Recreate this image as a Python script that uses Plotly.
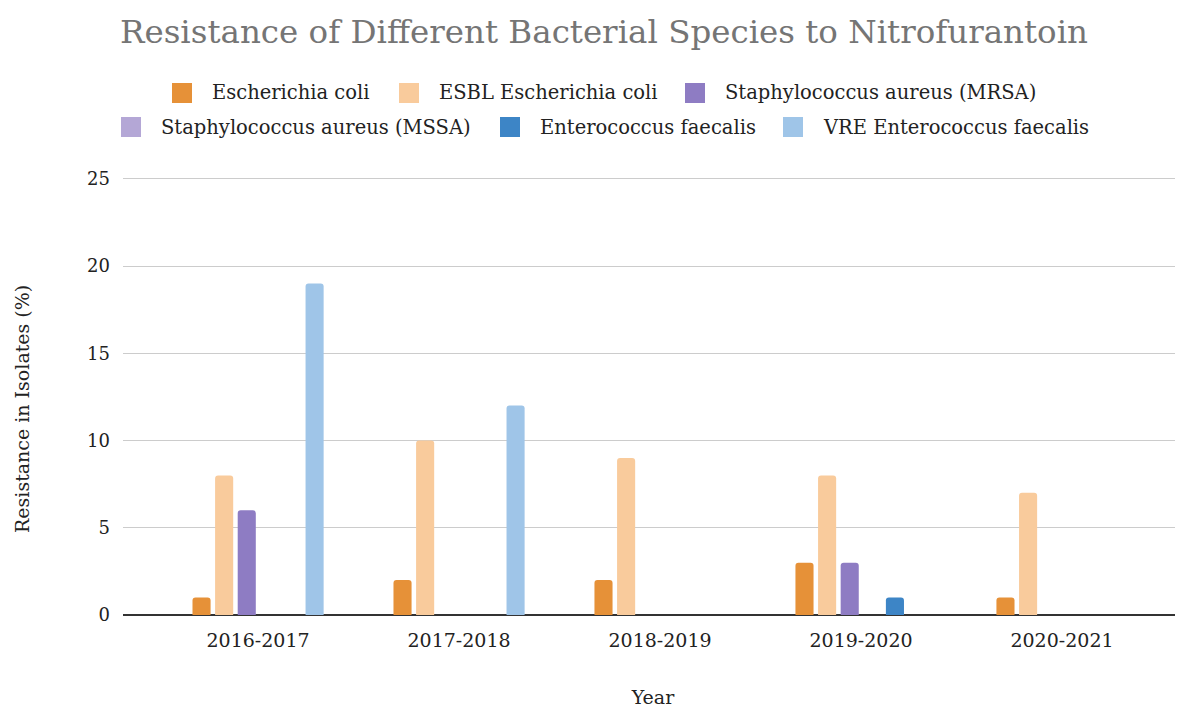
import plotly.graph_objects as go

years = ["2016-2017", "2017-2018", "2018-2019", "2019-2020", "2020-2021"]
series_names = [
    "Escherichia coli",
    "ESBL Escherichia coli",
    "Staphylococcus aureus (MRSA)",
    "Staphylococcus aureus (MSSA)",
    "Enterococcus faecalis",
    "VRE Enterococcus faecalis",
]
e_coli = [1, 2, 2, 3, 1]
esbl_e_coli = [8, 10, 9, 8, 7]
mrsa = [6, 0, 0, 3, 0]
mssa = [0, 0, 0, 0, 0]
e_faecalis = [0, 0, 0, 1, 0]
vre_e_faecalis = [19, 12, 0, 0, 0]
y_ticks = [0, 5, 10, 15, 20, 25]

values = [e_coli, esbl_e_coli, mrsa, mssa, e_faecalis, vre_e_faecalis]
colors = ["#E69138", "#F9CB9C", "#8E7CC3", "#B4A7D6", "#3D85C6", "#9FC5E8"]

FONT = "DejaVu Serif"
TXT = "#222222"

# layout geometry (page pixels; the page body adds an 8px offset)
OFF = 8
W, H = 1175, 701
ML, MR, MT, MB = 115, 0, 169, 94
PW = W - ML - MR
PH = H - MT - MB


def px_x(px):
    return (px - OFF - ML) / PW


def px_y(py):
    return (H - MB + OFF - py) / PH


fig = go.Figure()
for name, vals, col in zip(series_names, values, colors):
    fig.add_trace(go.Bar(
        x=years, y=[v if v != 0 else None for v in vals], name=name,
        marker=dict(color=col, line=dict(width=0)),
        showlegend=False,
        hovertemplate="%{x}: %{y}<extra>" + name + "</extra>",
    ))

# custom legend (two centred rows like the reference)
legend_text_left = [210, 437, 723, 159, 538, 821]
legend_row_y = [93, 93, 93, 127, 127, 127]
shapes = []
annotations = []
for name, col, tx, ty in zip(series_names, colors, legend_text_left, legend_row_y):
    sx0 = tx - 38
    shapes.append(dict(
        type="rect", xref="paper", yref="paper",
        x0=px_x(sx0), x1=px_x(sx0 + 20), y0=px_y(ty + 10), y1=px_y(ty - 10),
        fillcolor=col, line=dict(width=0), layer="above",
    ))
    annotations.append(dict(
        text=name, xref="paper", yref="paper", x=px_x(tx), y=px_y(ty),
        xanchor="left", yanchor="middle", showarrow=False,
        font=dict(family=FONT, size=19.5, color=TXT),
    ))

# y-axis title placed like the reference
annotations.append(dict(
    text="Resistance in Isolates (%)", xref="paper", yref="paper",
    x=px_x(22), y=px_y(409), xanchor="center", yanchor="middle",
    textangle=-90, showarrow=False,
    font=dict(family=FONT, size=19, color=TXT),
))

fig.update_layout(
    width=W, height=H,
    paper_bgcolor="white", plot_bgcolor="white",
    margin=dict(l=ML, r=MR, t=MT, b=MB, autoexpand=False),
    barmode="group", bargap=0.325, bargroupgap=0.2, barcornerradius=3,
    title=dict(
        text="Resistance of Different Bacterial Species to Nitrofurantoin",
        x=(604 - OFF) / W, xref="container", xanchor="center",
        y=1 - (32 - OFF) / H, yanchor="middle",
        font=dict(family=FONT, size=32.5, color="#757575"),
    ),
    shapes=shapes,
    annotations=annotations,
    showlegend=False,
    xaxis=dict(
        type="category", range=[-0.672, 4.602],
        showgrid=False, showline=False, ticks="",
        tickfont=dict(family=FONT, size=19, color=TXT),
        ticklabelstandoff=12,
        title=dict(text="Year", font=dict(family=FONT, size=19, color=TXT), standoff=40),
    ),
    yaxis=dict(
        range=[0, 25.1], tickvals=y_ticks, ticktext=[str(t) for t in y_ticks],
        showgrid=True, gridcolor="#cccccc", gridwidth=1,
        zeroline=True, zerolinecolor="#333333", zerolinewidth=1.5,
        showline=False, ticks="",
        tickfont=dict(family=FONT, size=18, color=TXT),
        ticklabelstandoff=12,
    ),
)

fig.write_html("out.html")
